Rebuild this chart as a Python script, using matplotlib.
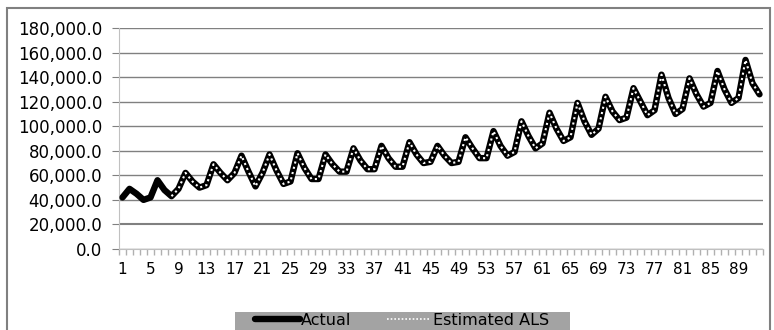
import matplotlib
matplotlib.use("Agg")
import matplotlib.pyplot as plt
import numpy as np
from matplotlib.patches import Rectangle
from matplotlib.lines import Line2D
from matplotlib.ticker import FuncFormatter, FixedLocator

periods = list(range(1, 93))
actual = [
    42000, 49000, 45000, 40000, 42000, 56000, 48000, 43000,
    49000, 62000, 55000, 50000, 52000, 69000, 62000, 56000,
    62000, 76000, 63000, 51000, 62000, 77000, 64000, 53000,
    55000, 78000, 66000, 57000, 57000, 77000, 69000, 63000,
    63000, 82000, 72000, 65000, 65000, 84000, 74000, 67000,
    67000, 87000, 77000, 70000, 71000, 84000, 76000, 70000,
    71000, 91000, 82000, 74000, 74000, 96000, 84000, 76000,
    79000, 104000, 92000, 82000, 86000, 111000, 98000, 88000,
    91000, 119000, 104000, 93000, 98000, 124000, 112000, 105000,
    107000, 131000, 120000, 109000, 113000, 142000, 123000, 110000,
    114000, 139000, 126000, 116000, 119000, 145000, 130000, 119000,
    123000, 154000, 135000, 126000,
]
# the ALS estimate starts after the initialisation period
estimated_als = [
    None, None, None, None, None, None, None, 43000,
    49000, 62000, 55000, 50000, 52000, 69000, 62000, 56000,
    62000, 76000, 63000, 51000, 62000, 77000, 64000, 53000,
    55000, 78000, 66000, 57000, 57000, 77000, 69000, 63000,
    63000, 82000, 72000, 65000, 65000, 84000, 74000, 67000,
    67000, 87000, 77000, 70000, 71000, 84000, 76000, 70000,
    71000, 91000, 82000, 74000, 74000, 96000, 84000, 76000,
    79000, 104000, 92000, 82000, 86000, 111000, 98000, 88000,
    91000, 119000, 104000, 93000, 98000, 124000, 112000, 105000,
    107000, 131000, 120000, 109000, 113000, 142000, 123000, 110000,
    114000, 139000, 126000, 116000, 119000, 145000, 130000, 119000,
    123000, 154000, 135000, 126000,
]
y_ticks = [0, 20000, 40000, 60000, 80000, 100000, 120000, 140000, 160000, 180000]
x_labels = list(range(1, 93, 4))

plt.rcParams['font.family'] = ['DejaVu Sans']
W, H = 774, 330
fig = plt.figure(figsize=(W / 100, H / 100), dpi=100)
fig.patch.set_facecolor('white')

# outer chart border
fig.patches.append(Rectangle((7 / W, -0.02), (770 - 7) / W, 1 - 8 / H + 0.02,
                             transform=fig.transFigure, fill=False,
                             edgecolor='#808080', linewidth=1.5))
# legend background
fig.patches.append(Rectangle((235 / W, -0.01), (570 - 235) / W, (331 - 310) / H,
                             transform=fig.transFigure, facecolor='#a3a3a3',
                             edgecolor='none', zorder=0))

ax = fig.add_axes([119 / W, 1 - 249 / H, (763 - 119) / W, (249 - 28) / H])
ax.set_facecolor('white')

est = np.array([np.nan if v is None else v for v in estimated_als], dtype=float)
ax.plot(periods, actual, color='black', linewidth=4.6, solid_joinstyle='round',
        solid_capstyle='round', zorder=3)
ax.plot(periods, est, color='white', linewidth=1.5,
        linestyle=(0, (1, 1.6)), zorder=4)

ax.set_xlim(0.5, len(periods) + 0.5)
ax.set_ylim(0, 180000)

ax.set_yticks(y_ticks)
ax.yaxis.set_major_formatter(FuncFormatter(lambda v, p: f"{v:,.1f}"))
ax.grid(axis='y', color='#808080', linewidth=1.0)
ax.set_axisbelow(True)
gl = ax.get_ygridlines()
gl[1].set_linewidth(1.5)

ax.xaxis.set_major_locator(FixedLocator(x_labels))
ax.set_xticklabels([str(v) for v in x_labels])
ax.xaxis.set_minor_locator(FixedLocator([v + 0.5 for v in range(0, len(periods) + 1)]))
ax.tick_params(axis='x', which='major', length=0, pad=9, labelsize=11, colors='black')
ax.tick_params(axis='x', which='minor', length=4, color='#b0b0b0', width=1, direction='out')
ax.tick_params(axis='y', which='major', length=5, color='#808080', pad=7, labelsize=12)

for side in ['top', 'right']:
    ax.spines[side].set_visible(False)
ax.spines['left'].set_color('#c0c0c0')
ax.spines['bottom'].set_color('#c0c0c0')

handles = [
    Line2D([], [], color='black', linewidth=4.6, solid_capstyle='round'),
    Line2D([], [], color='white', linewidth=1.2, linestyle=(0, (1, 1.2))),
]
leg = fig.legend(handles, ['Actual', 'Estimated ALS'], loc='center',
                 bbox_to_anchor=(402 / W, 1 - 320.5 / H), ncol=2,
                 frameon=False, fontsize=11.5, handlelength=2.8,
                 handletextpad=0.1, columnspacing=2.2, borderpad=0,
                 borderaxespad=0)

fig.savefig('out.png', dpi=100)
